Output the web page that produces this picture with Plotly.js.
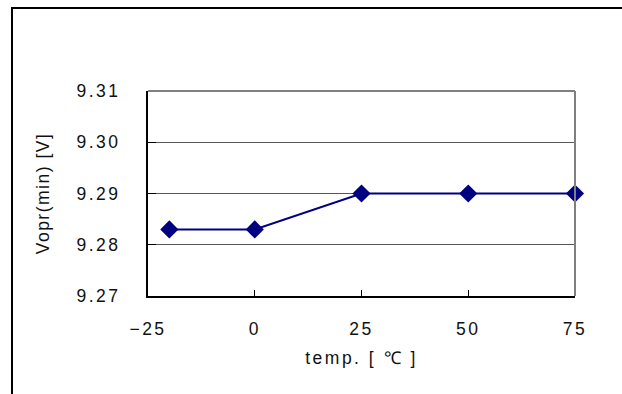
<!DOCTYPE html>
<html><head><meta charset="utf-8">
<script src="https://cdn.plot.ly/plotly-3.0.1.min.js"></script>
<style>
html,body{margin:0;padding:0;background:#fff;}
#wrap{position:relative;width:622px;height:394px;overflow:hidden;}
#frame{position:absolute;left:11px;top:7px;width:700px;height:500px;border-left:2px solid #000;border-top:2px solid #000;pointer-events:none;}
#chart .xtick text, #chart .ytick text{letter-spacing:2.5px;}
#chart .xtitle{letter-spacing:2.5px;}
#chart .ytitle{letter-spacing:1.5px;}
</style></head>
<body><div id="wrap"><div id="chart" style="width:622px;height:394px;"></div><div id="frame"></div></div>
<script>
const temps = [-20, 0, 25, 50, 75];
const vopr = [9.283, 9.283, 9.290, 9.290, 9.290];
const xTicks = [-25, 0, 25, 50, 75];
const yTicks = [9.27, 9.28, 9.29, 9.30, 9.31];
const yTickText = ['9.27', '9.28', '9.29', '9.30', '9.31'];
const fnt = {family: 'Liberation Sans, Arial, sans-serif', size: 17.5, color: '#111'};
Plotly.newPlot('chart', [{
  x: temps, y: vopr, type: 'scatter', mode: 'lines+markers',
  line: {color: '#000080', width: 2},
  marker: {symbol: 'diamond', size: 14, color: '#000080'},
  cliponaxis: false
}], {
  width: 622, height: 394,
  margin: {l: 148, r: 47, t: 91, b: 98},
  paper_bgcolor: '#fff', plot_bgcolor: '#fff',
  showlegend: false,
  font: fnt,
  xaxis: {range: [-25, 75], tickvals: xTicks, ticktext: xTicks.map(v => v < 0 ? '\u2212' + Math.abs(v) : String(v)),
    showgrid: false, zeroline: false, showline: true, linecolor: '#000', linewidth: 2,
    ticks: 'inside', ticklen: 6, tickcolor: '#000', ticklabelstandoff: 16,
    title: {text: 'temp. [ ℃ ]', font: fnt, standoff: 14}},
  yaxis: {range: [9.27, 9.31], tickvals: yTicks, ticktext: yTickText,
    showgrid: true, gridcolor: '#555', gridwidth: 1, zeroline: false,
    showline: true, linecolor: '#000', linewidth: 2,
    ticks: 'inside', ticklen: 8, tickcolor: '#000', ticklabelstandoff: 22,
    title: {text: 'Vopr(min) [V]', font: fnt, standoff: 32}},
  shapes: [
    {type: 'line', xref: 'paper', yref: 'paper', x0: 0, x1: 1, y0: 1, y1: 1, line: {color: '#808080', width: 2}},
    {type: 'line', xref: 'paper', yref: 'paper', x0: 1, x1: 1, y0: 0, y1: 1, line: {color: '#808080', width: 2}}
  ]
}, {displayModeBar: false, staticPlot: true});
</script></body></html>
